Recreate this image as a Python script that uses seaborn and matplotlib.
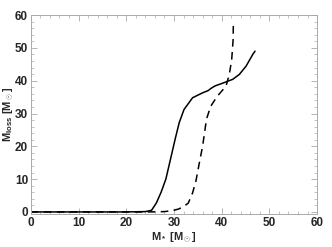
import numpy as np
import pandas as pd
import matplotlib
matplotlib.use('Agg')
import matplotlib.pyplot as plt
import seaborn as sns
from matplotlib.ticker import MultipleLocator

sns.set_style('ticks')
plt.rcParams['font.family'] = ['Liberation Sans', 'DejaVu Sans']
plt.rcParams['mathtext.fontset'] = 'custom'
plt.rcParams['mathtext.rm'] = 'Liberation Sans:bold'
plt.rcParams['mathtext.it'] = 'Liberation Sans:bold'
plt.rcParams['mathtext.bf'] = 'Liberation Sans:bold'

# solid curve
m_solid = [0, 5, 10, 15, 20, 24, 25.3, 26.3, 27.3, 28.3, 29.5, 30.3, 31.1, 32.1, 33.9,
           36.0, 37.2, 37.7, 38.6, 40.5, 42.3, 43.7, 45.1, 46.6, 47.0]
loss_solid = [0, 0, 0, 0, 0, 0.1, 0.5, 2.7, 6.0, 10.0, 17.5, 22.5, 27.2, 31.2, 34.8,
              36.3, 37.0, 37.6, 38.4, 39.4, 40.4, 41.9, 44.4, 48.2, 49.0]

# dashed curve
m_dash = [0, 5, 10, 15, 20, 25, 28, 29.7, 31.0, 32.1, 33.0, 33.9, 34.6, 35.3, 36.0,
          36.5, 36.8, 37.7, 39.1, 40.9, 41.6, 42.1, 42.4, 42.45]
loss_dash = [0, 0, 0, 0, 0, 0, 0.1, 0.4, 0.9, 1.7, 2.7, 5.8, 9.4, 14.8, 20.0,
             25.0, 28.2, 32.2, 35.3, 38.3, 41.9, 46.4, 52.4, 57.5]

df_s = pd.DataFrame({'m': m_solid, 'loss': loss_solid})
df_d = pd.DataFrame({'m': m_dash, 'loss': loss_dash})

fig = plt.figure(figsize=(3.32, 2.47), dpi=100)
ax = fig.add_axes([0.093, 0.134, 0.862, 0.805])

sns.lineplot(data=df_d, x='m', y='loss', ax=ax, color='black', lw=1.1,
             linestyle=(0, (5, 3.5)), sort=False)
sns.lineplot(data=df_s, x='m', y='loss', ax=ax, color='black', lw=1.1, sort=False)

ax.set_xlim(0, 60)
ax.set_ylim(-0.6, 60)
ax.xaxis.set_major_locator(MultipleLocator(10))
ax.xaxis.set_minor_locator(MultipleLocator(2))
ax.yaxis.set_major_locator(MultipleLocator(10))
ax.yaxis.set_minor_locator(MultipleLocator(2))
ax.tick_params(which='both', direction='in', top=True, right=True, color='#aaaaaa',
               labelsize=8.5, pad=2)
ax.tick_params(which='major', length=4, width=0.6)
ax.tick_params(which='minor', length=2, width=0.5)
for lab in ax.get_xticklabels() + ax.get_yticklabels():
    lab.set_fontweight('bold')
for s in ax.spines.values():
    s.set_color('#aaaaaa')
    s.set_linewidth(0.7)

ax.set_xlabel(r'$M_*$ [M$_\odot$]', fontsize=8, fontweight='bold')
ax.set_ylabel(r'$M_{loss}$ [M$_\odot$]', fontsize=8, fontweight='bold')
ax.xaxis.set_label_coords(0.5, -0.085)
ax.yaxis.set_label_coords(-0.052, 0.5)

plt.savefig('out.png', dpi=100)
